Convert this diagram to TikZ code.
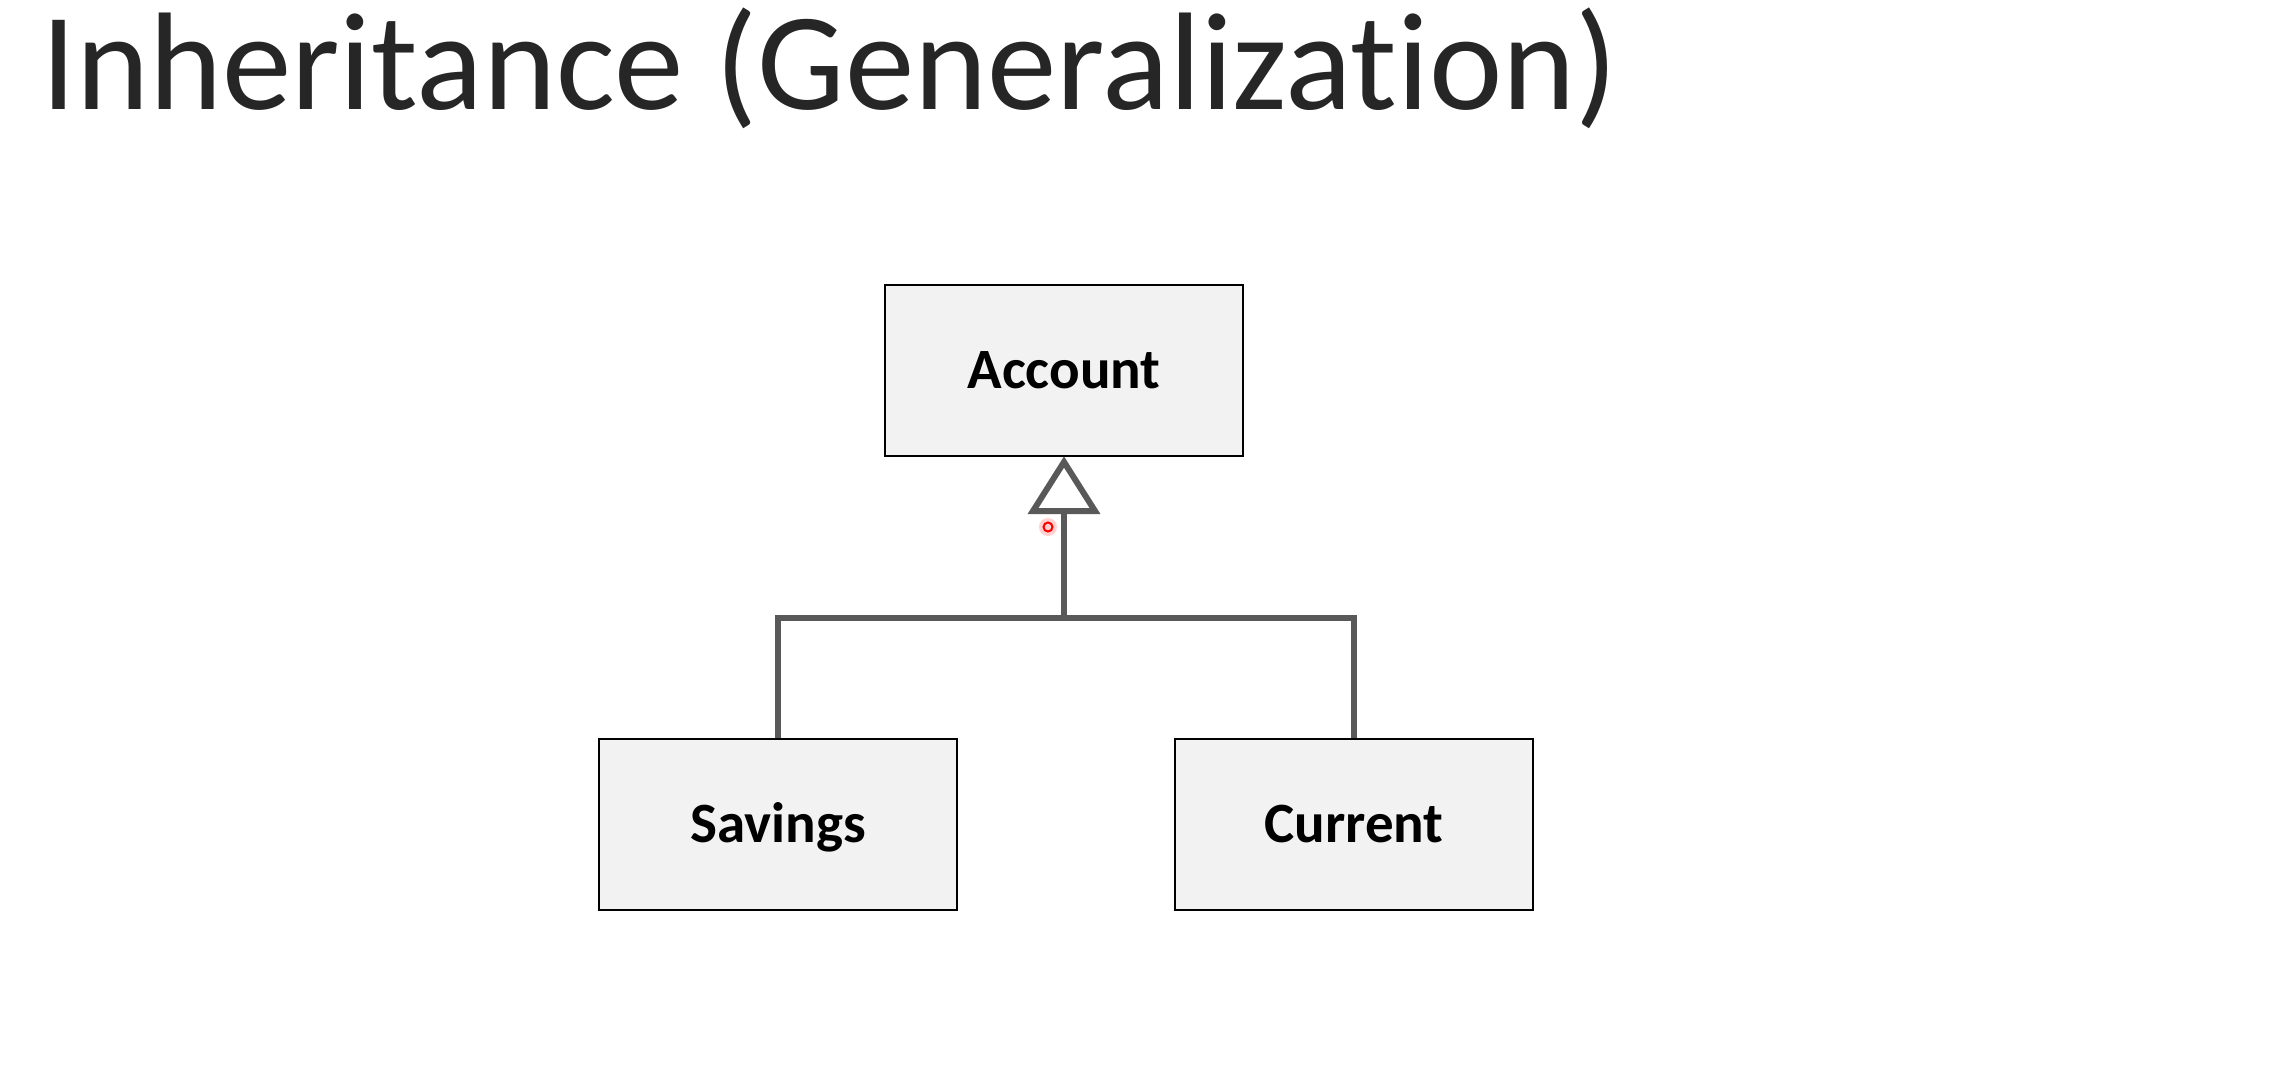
\documentclass[tikz,border=0pt]{standalone}
\usepackage{fontspec}
\setmainfont{Carlito}[Ligatures=NoCommon]
\definecolor{boxgray}{HTML}{F2F2F2}
\definecolor{linegray}{HTML}{595959}
\definecolor{titlegray}{HTML}{262626}
\begin{document}
\begin{tikzpicture}[x=1pt,y=-1pt,
  cls/.style={draw=black, line width=2pt, fill=boxgray, minimum width=358pt, minimum height=171pt,
    inner sep=0pt, text height=36.5pt, text depth=0pt, font=\fontsize{57}{68}\selectfont\bfseries},
  conn/.style={draw=linegray, line width=6pt}]
\useasboundingbox[fill=white] (0,0) rectangle (2281,1076);
\node[anchor=base west, inner sep=0pt, text=titlegray, font=\fontsize{139}{168}\selectfont] (title) at (41,109) {Inheritance (Generalization)};
\node[cls] (account) at (1064,370) {Account};
\node[cls] (savings) at (778,824) {Savings};
\node[cls] (current) at (1354,824) {Current};
\coordinate (tip) at (1064,462);
\coordinate (tribase) at (1064,511);
\coordinate (bar) at (1064,618);
\draw[conn] (tribase) -- (bar);
\draw[conn, line join=miter] (savings.north) -- (savings.north |- bar) -- (current.north |- bar) -- (current.north);
\draw[conn, fill=white, line join=miter] (tip) -- (1033,511) -- (1095,511) -- cycle;
\fill[red!18] (1048,527) circle (9);
\node[circle, draw=red, line width=2pt, minimum size=9pt, inner sep=0pt] (pointer) at (1048,527) {};
\end{tikzpicture}
\end{document}
